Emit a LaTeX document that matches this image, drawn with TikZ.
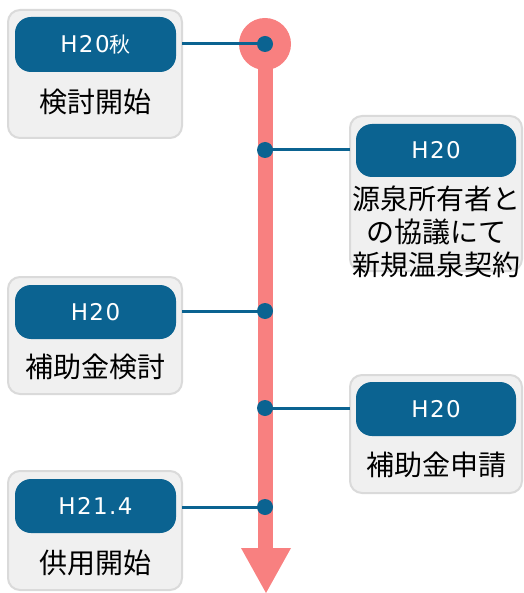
\documentclass[tikz,border=0pt]{standalone}
\usepackage{fontspec}
\setmainfont{Noto Sans CJK JP}
\newfontfamily\latinpill[LetterSpace=6]{DejaVu Sans}
\definecolor{pill}{RGB}{11,99,145}
\definecolor{salmon}{RGB}{248,128,128}
\definecolor{boxfill}{RGB}{240,240,240}
\definecolor{boxline}{RGB}{218,218,218}
\tikzset{
  card/.style={draw=boxline, line width=2pt, fill=boxfill, rounded corners=12pt},
  pillbox/.style={fill=pill, rounded corners=16pt},
  pilltext/.style={text=white, font=\fontsize{23}{26}\selectfont\latinpill},
  bodytext/.style={text=black, font=\fontsize{28}{33}\selectfont, align=center},
  conn/.style={draw=pill, line width=3pt},
  dot/.style={circle, fill=pill, inner sep=0pt, minimum size=16pt},
}
\begin{document}
\begin{tikzpicture}[x=1pt,y=-1pt]
\useasboundingbox (0,0) rectangle (523,593);
% timeline
\fill[salmon] (257.5,44) rectangle (273,550);
\fill[salmon] (241,548) -- (291,548) -- (266,593) -- cycle;
\fill[salmon] (265,44) circle (26);
% left 1
\draw[card] (8,10) rectangle (182,138);
\fill[pillbox] (15,17) rectangle (176,72);
\node[pilltext] (p1) at (95.5,44.5) {H20{\rmfamily\fontsize{21}{26}\selectfont 秋}};
\node[bodytext] (t1) at (95,102) {検討開始};
\coordinate (c1) at (182,44);
% right 1
\draw[card] (350,116) rectangle (522,271);
\fill[pillbox] (356,124) rectangle (516,177);
\node[pilltext] (p2) at (436,150.5) {H20};
\node[bodytext] (t2) at (436,232) {源泉所有者と\\の協議にて\\新規温泉契約};
\coordinate (c2) at (350,150);
% left 2
\draw[card] (8,277) rectangle (182,394);
\fill[pillbox] (15,285) rectangle (176,339);
\node[pilltext] (p3) at (95.5,312) {H20};
\node[bodytext] (t3) at (95,367) {補助金検討};
\coordinate (c3) at (182,311);
% right 2
\draw[card] (350,375) rectangle (522,493);
\fill[pillbox] (356,382) rectangle (516,436);
\node[pilltext] (p4) at (436,409) {H20};
\node[bodytext] (t4) at (436,465) {補助金申請};
\coordinate (c4) at (350,408);
% left 3
\draw[card] (8,471) rectangle (182,590);
\fill[pillbox] (15,479) rectangle (176,533);
\node[pilltext] (p5) at (95.5,506) {H21.4};
\node[bodytext] (t5) at (95,563) {供用開始};
\coordinate (c5) at (182,507);
% dots
\node[dot] (d1) at (265,44) {};
\node[dot] (d2) at (265,150) {};
\node[dot] (d3) at (265,311) {};
\node[dot] (d4) at (265,408) {};
\node[dot] (d5) at (265,507) {};
\draw[conn] (c1) -- (d1.center);
\draw[conn] (c2) -- (d2.center);
\draw[conn] (c3) -- (d3.center);
\draw[conn] (c4) -- (d4.center);
\draw[conn] (c5) -- (d5.center);
\end{tikzpicture}
\end{document}
